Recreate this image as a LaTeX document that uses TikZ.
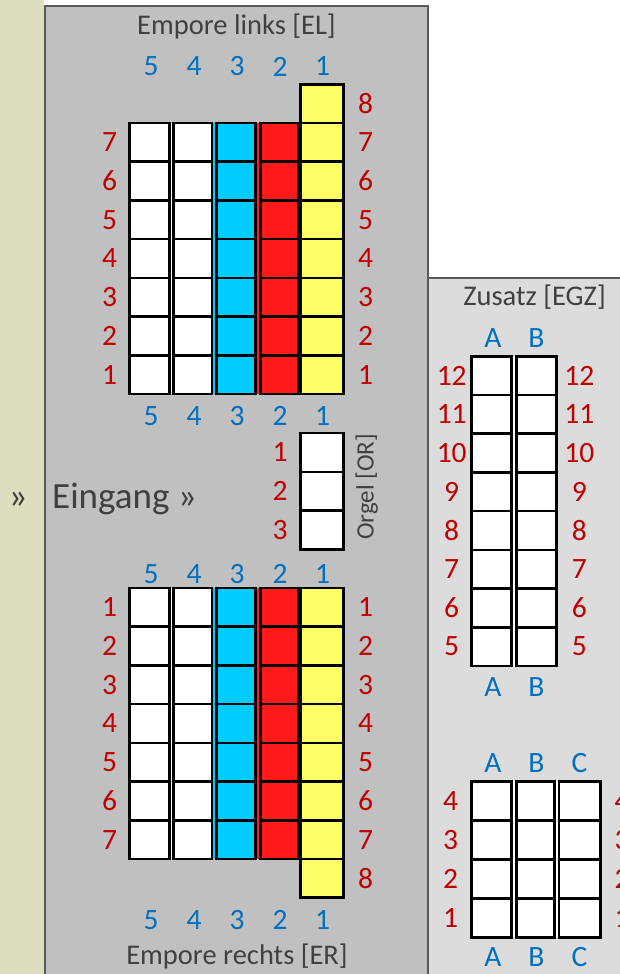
\documentclass[tikz,border=0pt]{standalone}
\usepackage{fontspec}
\setmainfont{Carlito}
\usepackage{tikz}

\definecolor{stripbeige}{RGB}{221,221,192}
\definecolor{panelgray}{RGB}{192,192,192}
\definecolor{panellight}{RGB}{220,220,220}
\definecolor{panelline}{RGB}{90,90,90}
\definecolor{seatblue}{RGB}{0,204,255}
\definecolor{seatred}{RGB}{255,26,26}
\definecolor{seatyellow}{RGB}{255,255,102}
\definecolor{rowred}{RGB}{192,0,0}
\definecolor{colblue}{RGB}{0,112,192}
\definecolor{titlegray}{RGB}{64,64,64}

\tikzset{
  seat/.style={draw=black,line width=2.6pt},
  rownum/.style={text=rowred,font=\fontsize{29.5}{31}\selectfont,inner sep=0pt},
  colnum/.style={text=colblue,font=\fontsize{29.5}{31}\selectfont,inner sep=0pt},
  blocktitle/.style={text=titlegray,font=\fontsize{28.5}{30}\selectfont,inner sep=0pt,anchor=base},
}

\begin{document}
\begin{tikzpicture}[x=1pt,y=-1pt]
    \useasboundingbox (0,0) rectangle (619,974);
    % Background: entrance strip and the two panels
    \fill[stripbeige] (0,0) rectangle (44,974);
    \fill[panelgray] (45,6) rectangle (428,990);
    \fill[panellight] (429,278) rectangle (640,990);
    \draw[panelline,line width=2.4pt] (45,990) -- (45,6) -- (428,6) -- (428,990);
    \draw[panelline,line width=2.4pt] (429,278) -- (640,278);
    % Gallery blocks left (top) and right (bottom)
    \foreach \top/\extra in {123/84.3,588/858.9} {
      \foreach \g/\r/\c in {129.5/169.5/white,169.5/212/white,212/255.5/seatblue,255.5/298/seatred,298/343.5/seatyellow}
        \fill[\c] (\g,\top) rectangle (\r,\top+7*38.7);
      \foreach \l/\r in {129.5/169.5,173.5/212,216.5/255.5,260.5/298,300.5/343.5}
        \foreach \k in {0,...,6}
          \draw[seat] (\l,\top+\k*38.7) rectangle (\r,\top+\k*38.7+38.7);
      \draw[seat,fill=seatyellow] (300.5,\extra) rectangle (343.5,\extra+38.7);
    }
    % Organ seats
    \foreach \k in {0,1,2}
      \draw[seat,fill=white] (300.5,433+\k*38.8) rectangle (343.7,433+\k*38.8+38.8);
    % Extra block, rows 12 to 5
    \fill[white] (471.3,356.3) rectangle (556.3,665.9);
    \foreach \l/\r in {471.3/511.3,516.3/556.3}
      \foreach \k in {0,...,7}
        \draw[seat] (\l,356.3+\k*38.7) rectangle (\r,356.3+\k*38.7+38.7);
    % Extra block, rows 4 to 1
    \fill[white] (471.3,781.3) rectangle (600.3,937.3);
    \foreach \l/\r in {471.3/511.3,516.7/554.7,559/600.3}
      \foreach \k in {0,...,3}
        \draw[seat] (\l,781.3+\k*39) rectangle (\r,781.3+\k*39+39);

    % Titles
    \node[blocktitle] (eltitle) at (236.5,35) {Empore links [EL]};
    \node[blocktitle] (ertitle) at (237,964) {Empore rechts [ER]};
    \node[blocktitle] (egztitle) at (534.5,305) {Zusatz [EGZ]};
    \node[blocktitle,anchor=base west,font=\fontsize{37}{40}\selectfont] (entry) at (52,508) {Eingang »};
    \node[blocktitle,font=\fontsize{37}{40}\selectfont] (entrymark) at (18,508) {»};
    \node[blocktitle,anchor=center,rotate=90,font=\fontsize{25}{28}\selectfont] (ortitle) at (366.7,487) {Orgel [OR]};

    % Column numbers
    \foreach \x/\n in {151/5,194/4,237/3,280/2,322.5/1} {
      \node[colnum] (elctop\n) at (\x,66.5) {\n};
      \node[colnum] (elcbot\n) at (\x,416) {\n};
      \node[colnum] (erctop\n) at (\x,574) {\n};
      \node[colnum] (ercbot\n) at (\x,920) {\n};
    }
    \foreach \x/\n in {493/A,536.5/B} {
      \node[colnum] (zactop\n) at (\x,338) {\n};
      \node[colnum] (zacbot\n) at (\x,686.7) {\n};
    }
    \foreach \x/\n in {493/A,536.5/B,579.5/C} {
      \node[colnum] (zbctop\n) at (\x,763.3) {\n};
      \node[colnum] (zbcbot\n) at (\x,956.7) {\n};
    }

    % Row numbers
    \foreach \k [evaluate=\k as \n using int(7-\k), evaluate=\k as \m using int(\k+1)] in {0,...,6} {
      \node[rownum] (elrl\n) at (109.5,123+\k*38.7+19.35) {\n};
      \node[rownum] (elrr\n) at (365.5,123+\k*38.7+19.35) {\n};
      \node[rownum] (errl\m) at (109.5,588+\k*38.7+19.35) {\m};
      \node[rownum] (errr\m) at (365.5,588+\k*38.7+19.35) {\m};
    }
    \node[rownum] (elrr8) at (365.5,103.6) {8};
    \node[rownum] (errr8) at (365.5,878.3) {8};
    \foreach \k [evaluate=\k as \n using int(\k+1)] in {0,1,2}
      \node[rownum] (orr\n) at (280,452.4+\k*38.8) {\n};
    \foreach \k [evaluate=\k as \n using int(12-\k)] in {0,...,7} {
      \node[rownum] (zarl\n) at (451.7,356.3+\k*38.7+19.35) {\n};
      \node[rownum] (zarr\n) at (579.3,356.3+\k*38.7+19.35) {\n};
    }
    \foreach \k [evaluate=\k as \n using int(4-\k)] in {0,...,3} {
      \node[rownum] (zbrl\n) at (450.7,781.3+\k*39+19.5) {\n};
      \node[rownum] (zbrr\n) at (622,781.3+\k*39+19.5) {\n};
    }
\end{tikzpicture}
\end{document}
